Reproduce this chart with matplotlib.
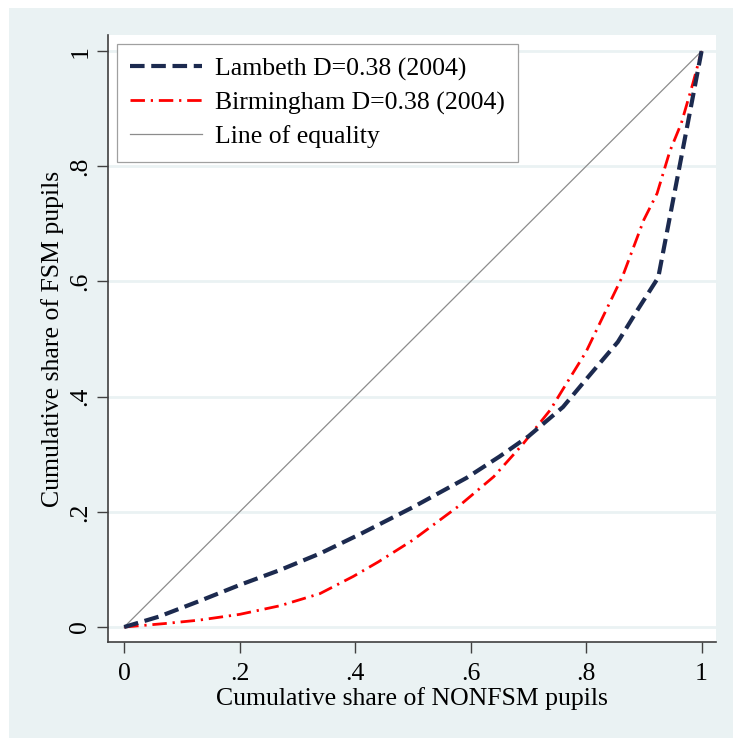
import numpy as np
import matplotlib.pyplot as plt
from matplotlib.patches import Rectangle

# Curvas de Lorenz / segregação
lambeth_x = [0, 0.06, 0.13, 0.2, 0.27, 0.34, 0.41, 0.5, 0.593, 0.65, 0.7, 0.76,
             0.8, 0.855, 0.89, 0.925, 0.96, 1.0]
lambeth_y = [0, 0.018, 0.045, 0.073, 0.099, 0.128, 0.162, 0.208, 0.259, 0.296, 0.331,
             0.382, 0.43, 0.495, 0.552, 0.607, 0.79, 1.0]

birm_x = [0, 0.07, 0.13, 0.2, 0.27, 0.339, 0.397, 0.44, 0.5, 0.582, 0.64,
          0.69, 0.738, 0.76, 0.8, 0.824, 0.864, 0.9, 0.923, 0.945, 0.965, 0.985, 1.0]
birm_y = [0, 0.006, 0.012, 0.022, 0.037, 0.058, 0.088, 0.113, 0.151, 0.212, 0.261,
          0.317, 0.377, 0.413, 0.478, 0.528, 0.611, 0.707, 0.753, 0.826, 0.875,
          0.944, 1.0]

igual_x = [0, 1]
igual_y = [0, 1]

ticks = [0, 0.2, 0.4, 0.6, 0.8, 1]
tick_labels = ['0', '.2', '.4', '.6', '.8', '1']

rotulos = ['Lambeth D=0.38 (2004)', 'Birmingham D=0.38 (2004)', 'Line of equality']

plt.rcParams['font.family'] = ['Liberation Serif', 'DejaVu Serif']
fs = 18.5
fundo = '#eaf2f3'

W, H = 733, 738
fig = plt.figure(figsize=(W / 100, H / 100), dpi=100)
fig.patch.set_facecolor('white')
fig.add_artist(Rectangle((9 / W, 0), 1 - 9 / W, 1 - 8 / H,
                         transform=fig.transFigure, facecolor=fundo,
                         edgecolor='none', zorder=-10))

ax = fig.add_axes([108 / W, 1 - 642 / H, 608 / W, 607 / H])
ax.set_facecolor('white')

# linhas de grade horizontais
for t in ticks:
    ax.axhline(t, color=fundo, linewidth=2, zorder=1)

ax.plot(lambeth_x, lambeth_y, color='#1c2a4f', linewidth=3.0,
        dashes=(3.5, 1.6), label=rotulos[0], zorder=4)
ax.plot(birm_x, birm_y, color='red', linewidth=2.0,
        dashes=(5.2, 2.1, 0.8, 2.1), label=rotulos[1], zorder=3)
ax.plot(igual_x, igual_y, color='#8c8c8c', linewidth=0.9,
        label=rotulos[2], zorder=2)

ax.set_xlim(-0.028, 1.025)
ax.set_ylim(-0.026, 1.028)

ax.set_xticks(ticks)
ax.set_xticklabels(tick_labels, fontsize=fs)
ax.set_yticks(ticks)
ax.set_yticklabels(tick_labels, fontsize=fs, rotation=90, va='center')
ax.tick_params(direction='out', length=8, width=1, color='#404040')
ax.tick_params(axis='x', pad=7)
ax.tick_params(axis='y', pad=4)

for s in ['top', 'right']:
    ax.spines[s].set_visible(False)
for s in ['left', 'bottom']:
    ax.spines[s].set_color('#404040')
    ax.spines[s].set_linewidth(1.2)

ax.set_xlabel('Cumulative share of NONFSM pupils', fontsize=fs, labelpad=1.5)
ax.set_ylabel('Cumulative share of FSM pupils', fontsize=fs, labelpad=4)

leg = ax.legend(loc='upper left', bbox_to_anchor=(117 / W, 1 - 44 / H),
                bbox_transform=fig.transFigure, borderaxespad=0,
                fontsize=fs, handlelength=2.8, handletextpad=0.5,
                labelspacing=0.41, borderpad=0.52, fancybox=False,
                framealpha=1, edgecolor='#a0a0a0')
leg.get_frame().set_linewidth(0.9)

fig.savefig('out.png', dpi=100)
